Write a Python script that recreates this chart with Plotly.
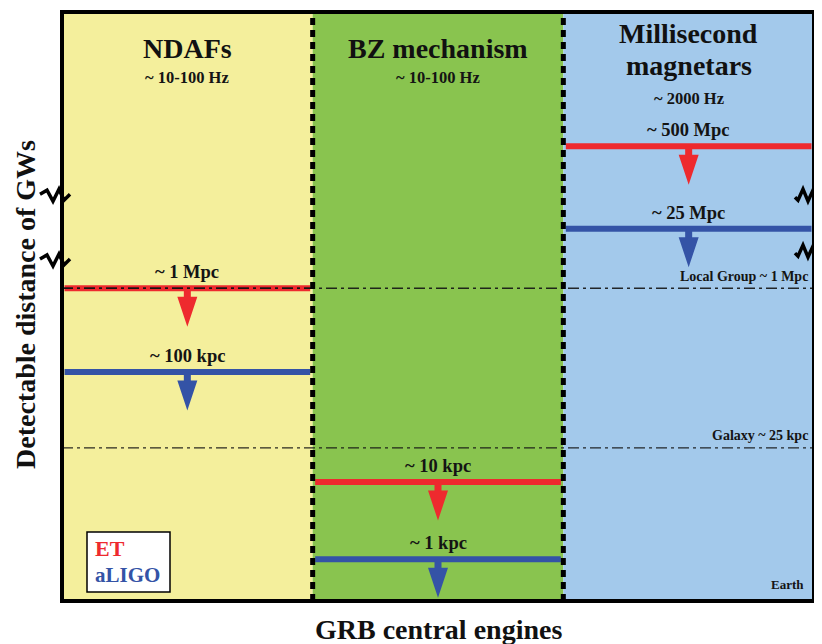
import plotly.graph_objects as go

# ---------------- data ----------------
panel_titles = ["NDAFs", "BZ mechanism", "Millisecond<br>magnetars"]
panel_freqs = ["~ 10-100 Hz", "~ 10-100 Hz", "~ 2000 Hz"]
panel_colors = ["#F4EF9C", "#89C44F", "#A3C9EB"]

et_labels = ["~ 1 Mpc", "~ 10 kpc", "~ 500 Mpc"]
et_levels = [53.1, 20.2, 77.2]
aligo_labels = ["~ 100 kpc", "~ 1 kpc", "~ 25 Mpc"]
aligo_levels = [38.9, 7.1, 63.2]

ref_labels = ["Local Group ~ 1 Mpc", "Galaxy ~ 25 kpc"]
ref_levels = [53.1, 26.0]

left_breaks = [68.9, 57.9]    # axis-break positions (schematic)
right_breaks = [68.9, 59.4]

# ---------------- geometry (page pixels) ----------------
OX, OY = 8, 8                 # default page body margin
W, H = 822 - OX, 644 - OY
L, R, T, B = 62, 814, 12, 601
PXX = 3.0 / (R - L)      # data x per pixel
PXY = 100.0 / (B - T)    # data y per pixel
FONT = "Liberation Serif"
ET_COL = "#EE2A2E"
LIGO_COL = "#3453A6"
TXT = "#141414"

fig = go.Figure()
shapes = []
annotations = []


def px2paper(px, py):
    return (px - L) / (R - L), (B - py) / (B - T)


def ann_px(px, py, text, size, color=TXT, xanchor="center", **kw):
    x, y = px2paper(px, py)
    annotations.append(dict(x=x, y=y, xref="paper", yref="paper", text=text, showarrow=False,
                            xanchor=xanchor, yanchor="middle",
                            font=dict(family=FONT, size=size, color=color), **kw))


# panel backgrounds
for i, c in enumerate(panel_colors):
    shapes.append(dict(type="rect", xref="x", yref="y", x0=i, x1=i + 1, y0=0, y1=100,
                       fillcolor=c, line=dict(width=0), layer="below"))


def arrow_path(xc, y, stem=8.5, stem_w=7, head_h=30, head_w=20):
    sx = stem_w / 2 * PXX
    hx = head_w / 2 * PXX
    y1 = y - stem * PXY
    y2 = y1 - head_h * PXY
    return (f"M {xc - sx},{y} L {xc - sx},{y1} L {xc - hx},{y1} L {xc},{y2} "
            f"L {xc + hx},{y1} L {xc + sx},{y1} L {xc + sx},{y} Z")


DASHDOT = "11px,4px,3px,4px"
# reference dash-dot lines
for lv in ref_levels:
    shapes.append(dict(type="line", xref="x", yref="y", x0=0, x1=3, y0=lv, y1=lv,
                       line=dict(color="rgba(20,20,20,0.9)", width=1.3, dash=DASHDOT)))

# detector lines and arrows
for i in range(3):
    xc = i + 0.5
    for lv, col, lab in [(et_levels[i], ET_COL, et_labels[i]), (aligo_levels[i], LIGO_COL, aligo_labels[i])]:
        fig.add_trace(go.Scatter(x=[i + 0.01, i + 0.99], y=[lv, lv], mode="lines",
                                 line=dict(color=col, width=6), hoverinfo="skip", showlegend=False))
        shapes.append(dict(type="path", xref="x", yref="y", path=arrow_path(xc, lv),
                           fillcolor=col, line=dict(width=0)))
        annotations.append(dict(x=xc, y=lv + 16 * PXY, xref="x", yref="y", text=f"<b>{lab}</b>",
                                showarrow=False, yanchor="middle",
                                font=dict(family=FONT, size=18.5, color=TXT)))

# redraw local group line over the red NDAF line
shapes.append(dict(type="line", xref="x", yref="y", x0=0, x1=1, y0=ref_levels[0], y1=ref_levels[0],
                   line=dict(color="rgba(20,20,20,0.9)", width=1.3, dash=DASHDOT)))

# reference labels
for lv, lab in zip(ref_levels, ref_labels):
    ann_px(810, B - lv / PXY - 12, f"<b>{lab}</b>", 14, xanchor="right")
ann_px(806, 584, "<b>Earth</b>", 13, xanchor="right")

# panel titles
centers = [L + (i + 0.5) * (R - L) / 3 for i in range(3)]
ann_px(centers[0], 48, f"<b>{panel_titles[0]}</b>", 28, color="#111")
ann_px(centers[0], 78, f"<b>{panel_freqs[0]}</b>", 16.5)
ann_px(centers[1], 48, f"<b>{panel_titles[1]}</b>", 28, color="#111")
ann_px(centers[1], 78, f"<b>{panel_freqs[1]}</b>", 16.5)
t1, t2 = panel_titles[2].split("<br>")
ann_px(centers[2], 33, f"<b>{t1}</b>", 28, color="#111")
ann_px(centers[2], 66, f"<b>{t2}</b>", 28, color="#111")
ann_px(centers[2], 99, f"<b>{panel_freqs[2]}</b>", 16.5)

# dotted separators
for xs in [1, 2]:
    shapes.append(dict(type="line", xref="x", yref="y", x0=xs, x1=xs, y0=0, y1=100,
                       line=dict(color="black", width=5, dash="7px,5px")))

# frame
shapes.append(dict(type="rect", xref="paper", yref="paper", x0=0, x1=1, y0=0, y1=1,
                   line=dict(color="black", width=4)))


# axis breaks (zigzags)
def zig(points):
    pts = [px2paper(px, py) for px, py in points]
    return "M " + " L ".join(f"{a},{b}" for a, b in pts)


for lv in left_breaks:
    yc = B - lv / PXY
    pts = [(40, yc - 1), (47, yc - 5), (53, yc + 6), (59, yc - 6), (64, yc + 5), (70, yc - 1)]
    shapes.append(dict(type="path", xref="paper", yref="paper", path=zig(pts),
                       line=dict(color="black", width=3.5)))
for lv in right_breaks:
    yc = B - lv / PXY
    pts = [(820, yc - 1), (813, yc - 5), (808, yc + 6), (803, yc - 6), (798, yc + 5), (795, yc + 2)]
    shapes.append(dict(type="path", xref="paper", yref="paper", path=zig(pts),
                       line=dict(color="black", width=3.5)))

# legend box
bx0, by0 = px2paper(87, 592)
bx1, by1 = px2paper(170, 532)
shapes.append(dict(type="rect", xref="paper", yref="paper", x0=bx0, x1=bx1, y0=by0, y1=by1,
                   fillcolor="white", line=dict(color="black", width=1.5)))
ann_px(93, 548, "<b>ET</b>", 22, color=ET_COL, xanchor="left")
ann_px(93, 575, "<b>aLIGO</b>", 21, color=LIGO_COL, xanchor="left")

# axis titles
ann_px(25, 305, "<b>Detectable distance of GWs</b>", 28, color="#111", textangle=-90)
ann_px((L + R) / 2, 629, "<b>GRB central engines</b>", 28, color="#111")

fig.update_layout(
    width=W, height=H,
    margin=dict(l=L - OX, r=(W + OX) - R, t=T - OY, b=(H + OY) - B),
    paper_bgcolor="white", plot_bgcolor="white",
    xaxis=dict(range=[0, 3], visible=False, fixedrange=True),
    yaxis=dict(range=[0, 100], visible=False, fixedrange=True),
    shapes=shapes, annotations=annotations, showlegend=False,
)

fig.write_html("out.html")
